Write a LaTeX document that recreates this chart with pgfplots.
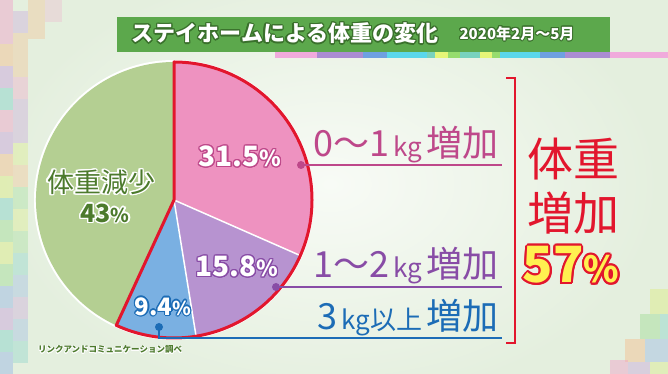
\documentclass[border=0pt]{standalone}
\usepackage{pgfplots}
\pgfplotsset{compat=1.18}
\usepackage{fontspec}
\usepackage{contour}
\contournumber{16}
\newfontfamily\jp{Noto Sans CJK JP}
\newcommand\outl[3]{\contourlength{#2pt}\contour{#1}{#3}}
\definecolor{bgc}{RGB}{228,239,222}
\definecolor{bgin}{RGB}{248,251,246}
\definecolor{gslice}{RGB}{180,207,146}
\definecolor{pslice}{RGB}{238,146,192}
\definecolor{vslice}{RGB}{183,147,208}
\definecolor{bslice}{RGB}{122,176,226}
\definecolor{redc}{RGB}{226,22,45}
\definecolor{pdark}{RGB}{190,72,138}
\definecolor{vdark}{RGB}{136,76,166}
\definecolor{bdark}{RGB}{28,108,182}
\definecolor{tgreen}{RGB}{92,168,76}
\definecolor{tdark}{RGB}{58,112,44}
\definecolor{gtext}{RGB}{76,122,44}
\definecolor{yel}{RGB}{255,240,80}
\definecolor{m1}{RGB}{240,160,200}
\definecolor{m2}{RGB}{245,190,140}
\definecolor{m3}{RGB}{200,160,220}
\definecolor{m4}{RGB}{130,210,200}
\definecolor{m5}{RGB}{220,235,130}
\definecolor{m6}{RGB}{150,180,230}
\definecolor{m7}{RGB}{160,220,150}
\definecolor{s1}{RGB}{240,170,220}
\definecolor{s2}{RGB}{170,140,210}
\definecolor{s3}{RGB}{110,160,225}
\definecolor{s4}{RGB}{90,215,235}
\definecolor{s5}{RGB}{120,210,190}
\definecolor{s6}{RGB}{230,245,120}
\definecolor{s7}{RGB}{150,220,110}
% pie data (percent)
\def\vA{31.5}\def\vB{15.8}\def\vC{9.4}\def\vD{43}
\pgfmathsetmacro\tot{\vA+\vB+\vC+\vD}
\pgfmathsetmacro\aA{90-360*\vA/\tot}
\pgfmathsetmacro\aB{\aA-360*\vB/\tot}
\pgfmathsetmacro\aC{\aB-360*\vC/\tot}
\begin{document}
\begin{tikzpicture}
% background
\begin{scope}
\clip (0,0) rectangle (668pt,374pt);
\fill[bgc] (0,0) rectangle (668pt,374pt);
\shade[inner color=bgin, outer color=bgc] (330pt,190pt) ellipse [x radius=330pt, y radius=220pt];
% left mosaic
\foreach \y/\c in {0/m6,22/m4,44/m3,66/m6,88/m7,110/m5,132/m7,154/m4,176/m5,198/m2,220/m3,242/m1,264/m4,286/m3,308/m2,330/m1,352/m1}{
  \fill[\c, opacity=0.45] (0pt,\y pt) rectangle (13pt,\y pt+22pt);
}
\foreach \y/\c in {11/m4,33/m6,55/m3,77/m6,99/m4,121/m7,143/m5,165/m7,187/m2,209/m5,231/m3,253/m3,275/m1,297/m2,319/m2,341/m3}{
  \fill[\c, opacity=0.35] (13pt,\y pt) rectangle (28pt,\y pt+22pt);
}
\fill[m2, opacity=0.35] (28pt,335pt) rectangle (45pt,374pt);
\fill[m1, opacity=0.25] (45pt,352pt) rectangle (62pt,374pt);
% right-bottom mosaic
\fill[m5, opacity=0.45] (650pt,60pt) rectangle (668pt,85pt);
\fill[m7, opacity=0.45] (640pt,35pt) rectangle (660pt,60pt);
\fill[m2, opacity=0.45] (625pt,12pt) rectangle (645pt,35pt);
\fill[m1, opacity=0.45] (610pt,0pt) rectangle (628pt,14pt);
\fill[m4, opacity=0.4] (660pt,35pt) rectangle (668pt,60pt);
\fill[m6, opacity=0.4] (645pt,12pt) rectangle (668pt,35pt);
\fill[m3, opacity=0.4] (628pt,0pt) rectangle (650pt,12pt);
\fill[m5, opacity=0.4] (650pt,0pt) rectangle (668pt,12pt);
\end{scope}
\begin{axis}[width=668pt,height=374pt,scale only axis,
  xmin=0,xmax=668,ymin=0,ymax=374,hide axis,clip=false]
% title bar
\fill[tgreen] (117,322) rectangle (610,357);
\node[text=white, font=\jp\bfseries\fontsize{22}{22}\selectfont] at (285,340)
  {\outl{tdark}{1.3}{ステイホームによる体重の変化}};
\node[text=white, font=\jp\bfseries\fontsize{15}{15}\selectfont] at (517,340)
  {\outl{tdark}{1}{2020年2月～5月}};
% stripe
\fill[s1] (275,316) rectangle (317,322);
\fill[s2] (317,316) rectangle (363,322);
\fill[s3] (363,316) rectangle (387,322);
\fill[s4] (387,316) rectangle (427,322);
\fill[s5] (427,316) rectangle (435,322);
\fill[s6] (435,316) rectangle (448,322);
\fill[s7] (448,316) rectangle (460,322);
\fill[s5] (460,316) rectangle (480,322);
\fill[s6] (480,316) rectangle (492,322);
\fill[s7] (492,316) rectangle (500,322);
\fill[s4] (500,316) rectangle (540,322);
\fill[s3] (540,316) rectangle (565,322);
\fill[s2] (565,316) rectangle (610,322);
\fill[s1] (610,316) rectangle (668,322);
% pie
\fill[white] (174,174) circle[radius=140pt];
\fill[gslice] (174,174) -- ++(\aC:138pt) arc[start angle=\aC, end angle=-270, radius=138pt] -- cycle;
\fill[pslice] (174,174) -- ++(90:138pt) arc[start angle=90, end angle=\aA, radius=138pt] -- cycle;
\fill[vslice] (174,174) -- ++(\aA:138pt) arc[start angle=\aA, end angle=\aB, radius=138pt] -- cycle;
\fill[bslice] (174,174) -- ++(\aB:138pt) arc[start angle=\aB, end angle=\aC, radius=138pt] -- cycle;
\draw[white, line width=1.5pt] (174,174) -- ++(\aA:138pt);
\draw[white, line width=1.5pt] (174,174) -- ++(\aB:138pt);
\draw[redc, line width=3pt, line join=round] (174,174) -- ++(90:138pt) arc[start angle=90, end angle=\aC, radius=138pt] -- cycle;
% pie labels
\node[text=white, font=\jp\bfseries\fontsize{28}{28}\selectfont] at (240,217)
  {\outl{pdark}{1.3}{31.5{\fontsize{22}{22}\selectfont\%}}};
\node[text=white, font=\jp\bfseries\fontsize{28}{28}\selectfont] at (237,107)
  {\outl{vdark}{1.3}{15.8{\fontsize{22}{22}\selectfont\%}}};
\node[text=white, font=\jp\bfseries\fontsize{24}{24}\selectfont] at (163,67)
  {\outl{bdark}{1.2}{9.4{\fontsize{19}{19}\selectfont\%}}};
\node[text=gtext, font=\jp\fontsize{27}{27}\selectfont] at (101,191)
  {\outl{white}{1.4}{体重減少}};
\node[text=gtext, font=\jp\bfseries\fontsize{25}{25}\selectfont] at (105,160)
  {\outl{white}{1.4}{43{\fontsize{19}{19}\selectfont\%}}};
% leader lines
\draw[pdark, line width=1.8pt] (301,209) -- (502,209);
\fill[pdark] (301,209) circle[radius=4pt];
\draw[vdark, line width=1.8pt] (276,87) -- (502,87);
\fill[vdark] (276,87) circle[radius=4pt];
\draw[bdark, line width=1.8pt] (159,47) -- (159,36) -- (502,36);
\fill[bdark] (159,47) circle[radius=4pt];
% right labels
\node[anchor=base east, text=pdark, font=\jp] at (502,217)
  {{\fontsize{36}{36}\selectfont 0～1}{\fontsize{26}{26}\selectfont\,kg\,}{\fontsize{36}{36}\selectfont 増加}};
\node[anchor=base east, text=vdark, font=\jp] at (502,96)
  {{\fontsize{36}{36}\selectfont 1～2}{\fontsize{26}{26}\selectfont\,kg\,}{\fontsize{36}{36}\selectfont 増加}};
\node[anchor=base east, text=bdark, font=\jp] at (502,44)
  {{\fontsize{36}{36}\selectfont 3}{\fontsize{26}{26}\selectfont\,kg以上\,}{\fontsize{36}{36}\selectfont 増加}};
% bracket
\draw[redc, line width=2.5pt] (506,296) -- (515,296) -- (515,31) -- (506,31);
% big labels
\node[text=redc, font=\jp\fontsize{46}{46}\selectfont] at (573,215) {体重};
\node[text=redc, font=\jp\fontsize{46}{46}\selectfont] at (573,161) {増加};
\node[text=yel, font=\jp\bfseries\fontsize{50}{50}\selectfont] at (571,108)
  {\outl{redc}{2}{57{\fontsize{36}{36}\selectfont\%}}};
% source
\node[text=gtext, font=\jp\bfseries\fontsize{8.5}{8.5}\selectfont] at (110,24)
  {\outl{white}{0.6}{リンクアンドコミュニケーション調べ}};
\end{axis}
\end{tikzpicture}
\end{document}
